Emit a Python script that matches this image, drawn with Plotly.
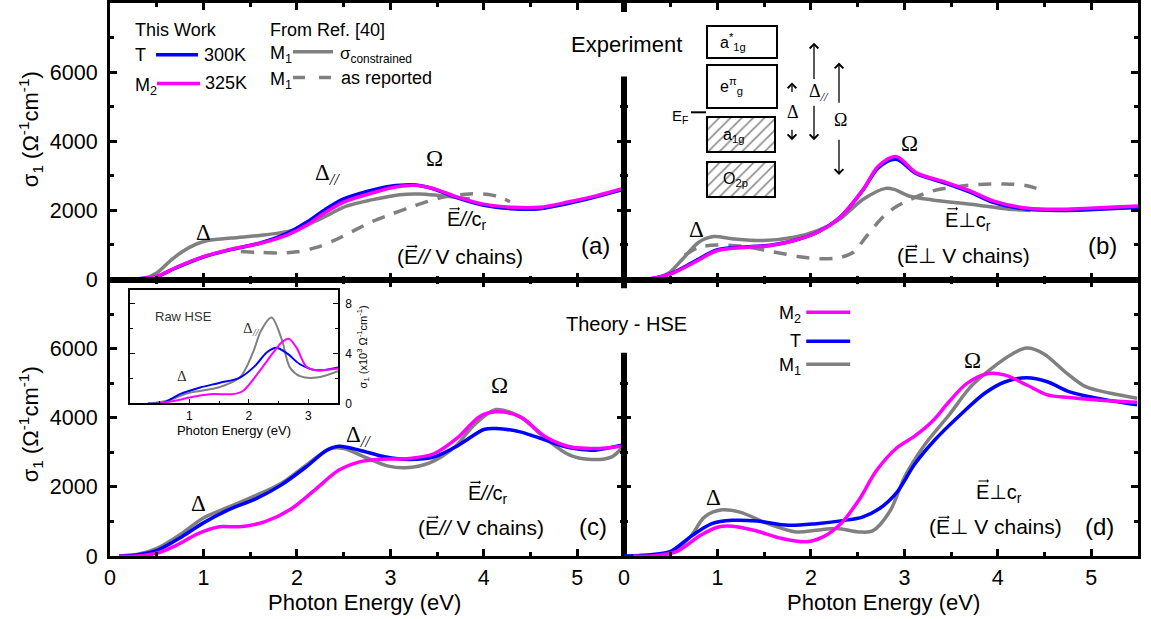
import plotly.graph_objects as go

# ---------------- data ----------------
# (a) Experiment, E // c_r
a_E = [0.1, 0.3, 0.5, 0.7, 1.0, 1.3, 1.6, 1.9, 2.1, 2.3, 2.5, 2.75, 3.0, 3.25, 3.45, 3.7, 4.0, 4.3, 4.6, 4.9, 5.2, 5.5]
a_M2 = [0, 20, 90, 340, 660, 880, 1040, 1290, 1560, 1930, 2240, 2460, 2650, 2730, 2640, 2400, 2180, 2090, 2090, 2240, 2420, 2640]
a_T = [0, 20, 85, 330, 650, 870, 1050, 1340, 1650, 2020, 2330, 2550, 2700, 2740, 2630, 2380, 2150, 2050, 2050, 2200, 2390, 2610]
a_E_M1 = [0.1, 0.35, 0.5, 0.67, 0.85, 1.03, 1.3, 1.67, 1.96, 2.24, 2.53, 2.81, 3.1, 3.31, 3.52, 3.7, 3.85]
a_M1 = [0, 20, 190, 600, 930, 1120, 1200, 1295, 1430, 1740, 2120, 2310, 2455, 2475, 2430, 2380, 2330]
a_E_M1r = [1.4, 1.6, 1.8, 2.0, 2.2, 2.4, 2.6, 2.8, 3.0, 3.2, 3.4, 3.6, 3.85, 4.05, 4.15, 4.28]
a_M1r = [810, 785, 770, 800, 920, 1130, 1400, 1670, 1880, 2076, 2260, 2400, 2475, 2460, 2400, 2250]

# (b) Experiment, E perp c_r
b_E = [0.08, 0.3, 0.51, 0.76, 1.0, 1.33, 1.57, 1.82, 2.07, 2.31, 2.56, 2.72, 2.91, 3.13, 3.46, 3.71, 3.95, 4.32, 4.73, 5.14, 5.5]
b_M2 = [0, 30, 170, 506, 840, 936, 984, 1127, 1366, 1796, 2607, 3276, 3560, 3085, 2798, 2560, 2273, 2063, 2034, 2082, 2130]
b_T = [0, 30, 180, 530, 860, 950, 990, 1127, 1366, 1800, 2600, 3230, 3480, 3060, 2770, 2520, 2230, 2030, 2000, 2040, 2080]
b_E_M1 = [0.08, 0.3, 0.47, 0.63, 0.8, 0.96, 1.17, 1.49, 1.82, 2.07, 2.31, 2.56, 2.8, 2.89, 3.05, 3.3, 3.71, 4.12, 4.35]
b_M1 = [0, 20, 172, 600, 1080, 1242, 1175, 1127, 1223, 1414, 1748, 2321, 2636, 2607, 2416, 2302, 2178, 2034, 2000]
b_E_M1r = [0.65, 0.8, 1.0, 1.3, 1.6, 1.9, 2.1, 2.3, 2.45, 2.6, 2.75, 2.88, 3.05, 3.3, 3.55, 3.8, 4.1, 4.3, 4.5]
b_M1r = [700, 930, 1000, 950, 800, 650, 600, 630, 780, 1270, 1750, 2050, 2300, 2560, 2680, 2750, 2760, 2720, 2560]

# (c) Theory HSE, E // c_r
c_E_T = [0.1, 0.3, 0.51, 0.77, 0.99, 1.26, 1.57, 1.83, 2.1, 2.32, 2.45, 2.67, 2.94, 3.2, 3.47, 3.73, 4.0, 4.13, 4.39, 4.66, 4.92, 5.19, 5.47]
c_T = [0, 40, 173, 558, 944, 1329, 1666, 2051, 2581, 3062, 3178, 3062, 2870, 2793, 2870, 3207, 3660, 3688, 3592, 3351, 3130, 3062, 3207]
c_E_M1 = [0.1, 0.3, 0.51, 0.77, 0.99, 1.26, 1.57, 1.83, 2.1, 2.36, 2.5, 2.72, 2.98, 3.16, 3.42, 3.69, 3.9, 4.13, 4.39, 4.66, 4.92, 5.15, 5.37, 5.47]
c_M1 = [0, 50, 230, 655, 1088, 1406, 1762, 2099, 2630, 3110, 3110, 2870, 2600, 2552, 2696, 3158, 3800, 4237, 4025, 3400, 2918, 2793, 2870, 3110]
c_E_M2 = [0.1, 0.29, 0.5, 0.68, 0.95, 1.17, 1.39, 1.66, 1.92, 2.19, 2.45, 2.67, 2.89, 3.2, 3.47, 3.73, 3.95, 4.13, 4.39, 4.66, 4.92, 5.19, 5.47]
c_M2 = [0, 0, 80, 270, 655, 847, 847, 992, 1329, 1907, 2485, 2725, 2802, 2822, 2966, 3448, 4025, 4170, 4025, 3448, 3159, 3110, 3178]

# (d) Theory HSE, E perp c_r
d_E_M1 = [0.1, 0.3, 0.49, 0.71, 0.86, 1.05, 1.24, 1.54, 1.84, 2.06, 2.28, 2.51, 2.66, 2.85, 3.0, 3.22, 3.48, 3.71, 3.93, 4.16, 4.31, 4.49, 4.72, 4.94, 5.21, 5.49]
d_M1 = [0, 20, 76, 554, 1127, 1337, 1270, 936, 697, 745, 793, 697, 726, 1318, 2273, 3228, 4087, 4899, 5424, 5854, 6017, 5854, 5329, 4899, 4708, 4565]
d_E_T = [0.0, 0.2, 0.49, 0.71, 0.94, 1.16, 1.42, 1.76, 2.06, 2.36, 2.55, 2.73, 2.92, 3.11, 3.33, 3.6, 3.86, 4.08, 4.31, 4.53, 4.76, 5.06, 5.49]
d_T = [0, 20, 124, 554, 936, 1031, 1012, 888, 936, 1031, 1127, 1366, 1843, 2655, 3371, 4087, 4708, 5042, 5157, 5042, 4756, 4565, 4374]
d_E_M2 = [0.1, 0.3, 0.56, 0.82, 1.01, 1.16, 1.39, 1.69, 1.95, 2.13, 2.32, 2.51, 2.7, 2.92, 3.11, 3.3, 3.48, 3.67, 3.9, 4.08, 4.31, 4.53, 4.76, 5.06, 5.49]
d_M2 = [0, 0, 124, 602, 840, 860, 745, 506, 411, 554, 936, 1604, 2464, 3132, 3467, 3896, 4469, 4995, 5281, 5233, 4947, 4660, 4584, 4517, 4450]

# inset: raw HSE (units of 10^3 Ohm^-1 cm^-1)
in_E_M1 = [0.3, 0.6, 1.0, 1.5, 1.85, 2.07, 2.2, 2.38, 2.55, 2.69, 2.86, 3.14, 3.5]
in_M1 = [0, 0.2, 0.85, 1.3, 2.1, 4.1, 5.8, 6.9, 5.2, 2.9, 2.2, 2.08, 2.6]
in_E_T = [0.3, 0.56, 0.84, 1.18, 1.5, 1.85, 2.1, 2.3, 2.46, 2.65, 2.86, 3.14, 3.5]
in_T = [0, 0.05, 0.75, 1.28, 1.65, 2.08, 3.0, 4.1, 4.48, 4.0, 3.15, 2.67, 2.9]
in_E_M2 = [0.5, 0.8, 1.0, 1.34, 1.73, 1.9, 2.18, 2.41, 2.55, 2.67, 2.8, 2.97, 3.14, 3.5]
in_M2 = [0, 0.25, 0.48, 0.75, 0.75, 1.0, 2.6, 4.08, 4.9, 5.2, 4.5, 2.95, 2.67, 2.8]

x_ticks = [0, 1, 2, 3, 4, 5]
y_ticks = [0, 2000, 4000, 6000]
in_x_ticks = [1, 2, 3]
in_y_ticks = [0, 4, 8]

# energy-level diagram boxes (labels, hatched?)
box_labels = ["a<sup>*</sup><sub>1g</sub>", "e<sup>π</sup><sub>g</sub>", "a<sub>1g</sub>", "O<sub>2p</sub>"]
box_hatch = ["", "", "/", "/"]

# ---------------- styling ----------------
W, H = 1151, 619
ML, MR, MT, MB = 110, 13, 0, 62.5
PW = W - ML - MR
PH = H - MT - MB
BLUE, MAG, GRAY = "#0000FF", "#FF00FF", "#808080"
SANS = "Arial, Liberation Sans, sans-serif"
SERIF = "Times New Roman, Liberation Serif, serif"
LW = 3.5
PERP = '<span style="font-family:DejaVu Sans">⊥</span>'
PAR = "<i>//</i>"


def px(x):
    return (x - ML) / PW


def py(y):
    return (H - MB - y) / PH


fig = go.Figure()


def line(x, y, color, xa, ya, dash="solid", width=LW):
    fig.add_trace(go.Scatter(x=x, y=y, mode="lines", xaxis=xa, yaxis=ya,
                             line=dict(color=color, width=width, dash=dash, shape="spline", smoothing=0.9),
                             showlegend=False, hoverinfo="skip"))


DASH = "13px,10px"
# (a)
line(a_E_M1r, a_M1r, GRAY, "x", "y", dash=DASH)
line(a_E_M1, a_M1, GRAY, "x", "y")
line(a_E, a_T, BLUE, "x", "y")
line(a_E, a_M2, MAG, "x", "y")
# (b)
line(b_E_M1r, b_M1r, GRAY, "x2", "y2", dash=DASH)
line(b_E_M1, b_M1, GRAY, "x2", "y2")
line(b_E, b_T, BLUE, "x2", "y2")
line(b_E, b_M2, MAG, "x2", "y2")
# (c)
line(c_E_M1, c_M1, GRAY, "x3", "y3")
line(c_E_T, c_T, BLUE, "x3", "y3")
line(c_E_M2, c_M2, MAG, "x3", "y3")
# (d)
line(d_E_M1, d_M1, GRAY, "x4", "y4")
line(d_E_T, d_T, BLUE, "x4", "y4")
line(d_E_M2, d_M2, MAG, "x4", "y4")
# inset
line(in_E_M1, in_M1, GRAY, "x5", "y5", width=2)
line(in_E_T, in_T, BLUE, "x5", "y5", width=2)
line(in_E_M2, in_M2, MAG, "x5", "y5", width=2)

# energy diagram boxes (pixel-coordinate overlay axis)
box_cx = [741.5, 741.5, 741, 741]
box_w = [70, 70, 68, 68]
box_top = [23, 62, 115, 160]
box_h = [32, 44, 35, 35]
fig.add_trace(go.Bar(x=box_cx, y=box_h, base=box_top, width=box_w, xaxis="x6", yaxis="y6",
                     marker=dict(color="white", line=dict(color="black", width=2),
                                 pattern=dict(shape=box_hatch, size=8, solidity=0.22,
                                              fgcolor="#222222", bgcolor="white")),
                     showlegend=False, hoverinfo="skip"))

tickfont = dict(family=SANS, size=21.5, color="black")
minor_x = dict(tickmode="linear", tick0=0, dtick=0.5, ticks="inside", ticklen=4, tickwidth=2.5, tickcolor="black")
minor_y = dict(tickmode="linear", tick0=0, dtick=1000, ticks="inside", ticklen=4, tickwidth=2.5, tickcolor="black")


def xax(domain, anchor, labels):
    return dict(domain=domain, anchor=anchor, range=[0, 5.5], showline=True, linewidth=3, linecolor="black",
                mirror="allticks", ticks="inside", ticklen=7, tickwidth=2.5, tickcolor="black",
                tickmode="array", tickvals=x_ticks, minor=minor_x, showgrid=False, zeroline=False,
                showticklabels=labels, tickfont=tickfont, ticklabelstandoff=0)


def yax(domain, anchor, labels):
    return dict(domain=domain, anchor=anchor, range=[0, 8000], showline=True, linewidth=3, linecolor="black",
                mirror="allticks", ticks="inside", ticklen=7, tickwidth=2.5, tickcolor="black",
                tickmode="array", tickvals=y_ticks, minor=minor_y, showgrid=False, zeroline=False,
                showticklabels=labels, tickfont=tickfont, ticklabelstandoff=5)


xd_l, xd_r = [0, 0.5], [0.5, 1]
yd_t, yd_b = [0.5, 1], [0, 0.5]

fig.update_layout(
    width=W, height=H, margin=dict(l=ML, r=MR, t=MT, b=MB, pad=0),
    paper_bgcolor="white", plot_bgcolor="rgba(0,0,0,0)",
    font=dict(family=SANS, color="black"),
    xaxis=xax(xd_l, "y", False), yaxis=yax(yd_t, "x", True),
    xaxis2=xax(xd_r, "y2", False), yaxis2=yax(yd_t, "x2", False),
    xaxis3=xax(xd_l, "y3", True), yaxis3=yax(yd_b, "x3", True),
    xaxis4=xax(xd_r, "y4", True), yaxis4=yax(yd_b, "x4", False),
    xaxis5=dict(domain=[px(130), px(338)], anchor="y5", range=[0, 3.5], showline=True, linewidth=1.5,
                linecolor="black", mirror=True, ticks="inside", ticklen=5, tickwidth=1.2, tickcolor="black",
                tickmode="array", tickvals=in_x_ticks,
                minor=dict(tickmode="linear", tick0=0, dtick=0.5, ticks="inside", ticklen=3, tickwidth=1.2, tickcolor="black"),
                showgrid=False, zeroline=False, tickfont=dict(family=SANS, size=12, color="black"),
                ticklabelstandoff=0,
                title=dict(text="Photon Energy (eV)", font=dict(family=SANS, size=13, color="black"), standoff=0)),
    yaxis5=dict(domain=[py(403), py(289)], anchor="x5", side="right", range=[0, 9.1], showline=True, linewidth=1.5,
                linecolor="black", mirror="allticks", ticks="inside", ticklen=5, tickwidth=1.2, tickcolor="black",
                tickmode="array", tickvals=in_y_ticks,
                minor=dict(tickmode="linear", tick0=0, dtick=2, ticks="inside", ticklen=3, tickwidth=1.2, tickcolor="black"),
                showgrid=False, zeroline=False, tickfont=dict(family=SANS, size=12, color="black"),
                ticklabelstandoff=3,
                title=dict(text="σ<sub>1</sub> (x10<sup>3</sup> Ω<sup>-1</sup>cm<sup>-1</sup>)",
                           font=dict(family=SANS, size=11, color="black"), standoff=8)),
    xaxis6=dict(domain=[0, 1], anchor="y6", range=[ML, W - MR], visible=False, fixedrange=True),
    yaxis6=dict(domain=[0, 1], anchor="x6", range=[H - MB, MT], visible=False, fixedrange=True),
    bargap=0, showlegend=False,
)

shapes = []
# white masks hiding the shared divider behind the titles
shapes.append(dict(type="rect", xref="paper", yref="paper", x0=px(616), x1=px(633), y0=py(74), y1=py(9),
                   fillcolor="white", line=dict(width=0), layer="above"))
shapes.append(dict(type="rect", xref="paper", yref="paper", x0=px(616), x1=px(633), y0=py(352), y1=py(287),
                   fillcolor="white", line=dict(width=0), layer="above"))

# legend (a)
shapes.append(dict(type="line", xref="paper", yref="paper", x0=px(156), x1=px(198), y0=py(52), y1=py(52),
                   line=dict(color=BLUE, width=LW)))
shapes.append(dict(type="line", xref="paper", yref="paper", x0=px(157), x1=px(200), y0=py(81), y1=py(81),
                   line=dict(color=MAG, width=LW)))
shapes.append(dict(type="line", xref="paper", yref="paper", x0=px(293), x1=px(333), y0=py(49), y1=py(49),
                   line=dict(color=GRAY, width=LW)))
shapes.append(dict(type="line", xref="paper", yref="paper", x0=px(293), x1=px(333), y0=py(75), y1=py(75),
                   line=dict(color=GRAY, width=LW, dash="12px,14px")))
# legend (d)
for yy, cc in [(7050, MAG), (6215, BLUE), (5550, GRAY)]:
    shapes.append(dict(type="line", xref="x4", yref="y4", x0=1.95, x1=2.42, y0=yy, y1=yy,
                       line=dict(color=cc, width=LW)))
# E_F tick
shapes.append(dict(type="line", xref="paper", yref="paper", x0=px(691), x1=px(706), y0=py(110), y1=py(110),
                   line=dict(color="black", width=2)))
fig.update_layout(shapes=shapes)

ann = []


def A(text, x, y, xref, yref, size=21, family=SANS, xanchor="center", yanchor="middle", color="black", **kw):
    ann.append(dict(text=text, x=x, y=y, xref=xref, yref=yref, showarrow=False, xanchor=xanchor,
                    yanchor=yanchor, font=dict(family=family, size=size, color=color), **kw))


def P(text, x, y, **kw):
    A(text, px(x), py(y), "paper", "paper", **kw)


def harrow(x0, x1, y, size=0.55, width=1.2):
    ann.append(dict(x=x1, y=y, xref="x6", yref="y6", ax=x0, ay=y, axref="x6", ayref="y6",
                    showarrow=True, text="", arrowhead=1, arrowsize=size, arrowwidth=width,
                    arrowcolor="black", standoff=0, startstandoff=0))


def vec_label(rest, left, ecy, fs, paren):
    """Label starting with a vector E (arrow drawn above the E)."""
    text = ("(" if paren else "") + "E" + rest
    has_sub = "<sub>" in rest
    P(text, left, ecy + (2.5 if has_sub else 0), size=fs, xanchor="left")
    e_left = left + 2 + (0.333 * fs if paren else 0)
    e_w = 0.667 * fs
    ya = ecy - 0.716 * fs / 2 - 2.5
    harrow(e_left + 1, e_left + e_w - 0.5, ya)


# axis titles
ytitle = "σ<sub>1</sub> (Ω<sup>-1</sup>cm<sup>-1</sup>)"
P(ytitle, 30, 127, size=22, textangle=-90)
P(ytitle, 30, 424, size=22, textangle=-90)
P("Photon Energy (eV)", 364, 603, size=22)
P("Photon Energy (eV)", 883, 603, size=22)

# (a)
A("Δ", 1.0, 1360, "x", "y", size=23, family=SERIF)
A("Δ<sub><i>//</i></sub>", 2.33, 3060, "x", "y", size=23, family=SERIF)
A("Ω", 3.47, 3506, "x", "y", size=23, family=SERIF)
vec_label(PAR + "c<sub>r</sub>", 445, 216.7, 20, False)
vec_label(PAR + " V chains)", 395, 255, 21, True)
A("(a)", 5.2, 983, "x", "y", size=24)
# (b)
A("Δ", 0.78, 1457, "x2", "y2", size=23, family=SERIF)
A("Ω", 3.05, 3934, "x2", "y2", size=23, family=SERIF)
vec_label(PERP + "c<sub>r</sub>", 943, 216.7, 20, False)
vec_label(PERP + " V chains)", 895, 255, 21, True)
A("(b)", 5.12, 983, "x2", "y2", size=24)
# (c)
A("Δ", 0.95, 1522, "x3", "y3", size=23, family=SERIF)
A("Δ<sub><i>//</i></sub>", 2.66, 3480, "x3", "y3", size=23, family=SERIF)
A("Ω", 4.17, 4940, "x3", "y3", size=23, family=SERIF)
vec_label(PAR + "c<sub>r</sub>", 466, 492, 20, False)
vec_label(PAR + " V chains)", 416, 527.5, 21, True)
A("(c)", 5.17, 847, "x3", "y3", size=24)
# (d)
A("Δ", 0.955, 1700, "x4", "y4", size=23, family=SERIF)
A("Ω", 3.73, 5663, "x4", "y4", size=23, family=SERIF)
vec_label(PERP + "c<sub>r</sub>", 974, 490.7, 20, False)
vec_label(PERP + " V chains)", 927, 527.5, 21, True)
A("(d)", 5.09, 840, "x4", "y4", size=24)
A("M<sub>2</sub>", 1.92, 6980, "x4", "y4", size=18, xanchor="right")
A("T", 1.92, 6215, "x4", "y4", size=18, xanchor="right")
A("M<sub>1</sub>", 1.92, 5480, "x4", "y4", size=18, xanchor="right")

# inset texts
A("Raw HSE", 0.9, 7.0, "x5", "y5", size=13, color="#333333")
A("Δ<sub><i>//</i></sub>", 2.05, 6.0, "x5", "y5", size=15, family=SERIF, color="#333333")
A("Δ", 0.87, 2.2, "x5", "y5", size=15, family=SERIF, color="#333333")

# titles
P("Experiment", 626, 42, size=22)
P("Theory - HSE", 626, 323, size=20)

# legend (a)
P("This Work", 133, 27, size=18, xanchor="left")
P("T", 133, 52, size=18, xanchor="left")
P("300K", 202, 52, size=18, xanchor="left")
P("M<sub>2</sub>", 133, 84, size=18, xanchor="left")
P("325K", 203, 81, size=18, xanchor="left")
P("From Ref. [40]", 268, 27, size=18, xanchor="left")
P("M<sub>1</sub>", 268, 52, size=18, xanchor="left")
P("σ<sub>constrained</sub>", 338, 52, size=17, xanchor="left")
P("M<sub>1</sub>", 268, 78, size=18, xanchor="left")
P("as reported", 339, 75, size=18, xanchor="left")

# energy diagram labels
P(box_labels[0], 733, 39, size=16)
P(box_labels[1], 731, 84, size=16)
P(box_labels[2], 733, 133, size=16)
P(box_labels[3], 735, 178, size=16)
P("E<sub>F</sub>", 680, 114, size=15)
P("Δ", 793, 110, size=18, family=SERIF)
P("Δ<sub><i>//</i></sub>", 819, 90, size=18, family=SERIF)
P("Ω", 840, 118, size=18, family=SERIF)


def arrow(x, y_head, y_tail):
    ann.append(dict(x=x, y=y_head, xref="x6", yref="y6", ax=x, ay=y_tail,
                    axref="x6", ayref="y6", showarrow=True, text="", arrowhead=4, arrowsize=1.3,
                    arrowwidth=1.3, arrowcolor="black"))


arrow(792, 80, 91)
arrow(792, 138, 126)
arrow(814, 40, 78)
arrow(814, 138, 102)
arrow(839, 60, 102)
arrow(839, 173, 136)

fig.update_layout(annotations=ann)
fig.write_html("out.html")
